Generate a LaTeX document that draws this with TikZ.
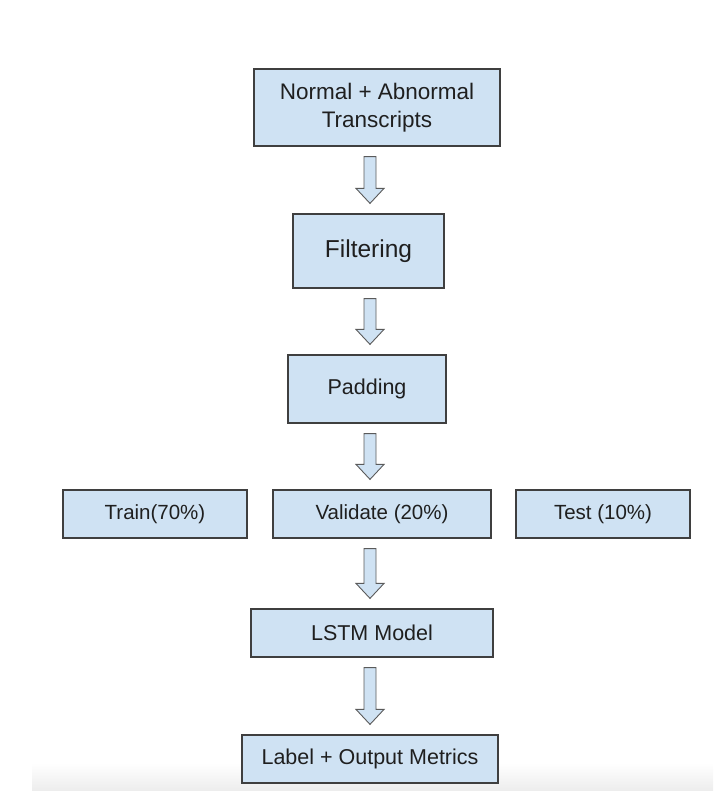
\documentclass[tikz,border=0pt]{standalone}
\usepackage{fontspec}
\setmainfont{Liberation Sans}
\usetikzlibrary{positioning,calc}
\definecolor{boxfill}{HTML}{CFE2F3}
\definecolor{boxline}{HTML}{3F3F3F}
\definecolor{arrowline}{HTML}{5A5A5A}

\tikzset{
  stage/.style={draw=boxline, line width=1.2pt, fill=boxfill, inner sep=0pt,
    align=center, text=black!88, font=\fontsize{21.5}{27}\selectfont},
  blockarrow/.style={draw=arrowline, line width=0.9pt, fill=boxfill, line join=miter},
}
% hollow down arrow between two stages, on the spine
\newcommand{\stagearrow}[2]{%
  \path[blockarrow] let \p1=($(#1.south)+(0,-10pt)$), \p2=($(#2.north)+(0,10pt)$),
    \p3=(spine) in
    (\x3-6pt,\y1) -- (\x3+6pt,\y1) -- (\x3+6pt,\y2+15pt) -- (\x3+14pt,\y2+15pt)
    -- (\x3,\y2) -- (\x3-14pt,\y2+15pt) -- (\x3-6pt,\y2+15pt) -- cycle;}

\begin{document}
\begin{tikzpicture}[x=1pt, y=-1pt, on grid]
  \useasboundingbox (0,0) rectangle (714,798);
  \shade[top color=white, bottom color=black!7] (32,763) rectangle (713,790);
  \coordinate (spine) at (370,0);
  \node[stage, minimum width=246pt, minimum height=77pt,
    font=\fontsize{22.5}{28}\selectfont] (transcripts) at (377,107.5)
    {Normal + Abnormal\\Transcripts};
  \node[stage, minimum width=151pt, minimum height=74pt, below=143.5pt of transcripts,
    xshift=-8.5pt, font=\fontsize{24.5}{28}\selectfont] (filter) {Filtering};
  \node[stage, minimum width=158pt, minimum height=68pt, below=138pt of filter,
    xshift=-1.5pt] (pad) {Padding};
  \node[stage, minimum width=218pt, minimum height=48pt, below=125pt of pad,
    xshift=15pt, font=\fontsize{20.5}{25}\selectfont] (validate) {Validate (20\%)};
  \node[stage, minimum width=184pt, minimum height=48pt, left=227pt of validate,
    font=\fontsize{20.5}{25}\selectfont] (train) {Train(70\%)};
  \node[stage, minimum width=174pt, minimum height=48pt, right=221pt of validate,
    font=\fontsize{20.5}{25}\selectfont] (test) {Test (10\%)};
  \node[stage, minimum width=242pt, minimum height=48pt, below=119pt of validate,
    xshift=-10pt] (lstm) {LSTM Model};
  \node[stage, minimum width=256pt, minimum height=48pt, below=126pt of lstm,
    xshift=-2pt] (metrics) {Label + Output Metrics};

  \stagearrow{transcripts}{filter}
  \stagearrow{filter}{pad}
  \stagearrow{pad}{validate}
  \stagearrow{validate}{lstm}
  \stagearrow{lstm}{metrics}
\end{tikzpicture}
\end{document}
